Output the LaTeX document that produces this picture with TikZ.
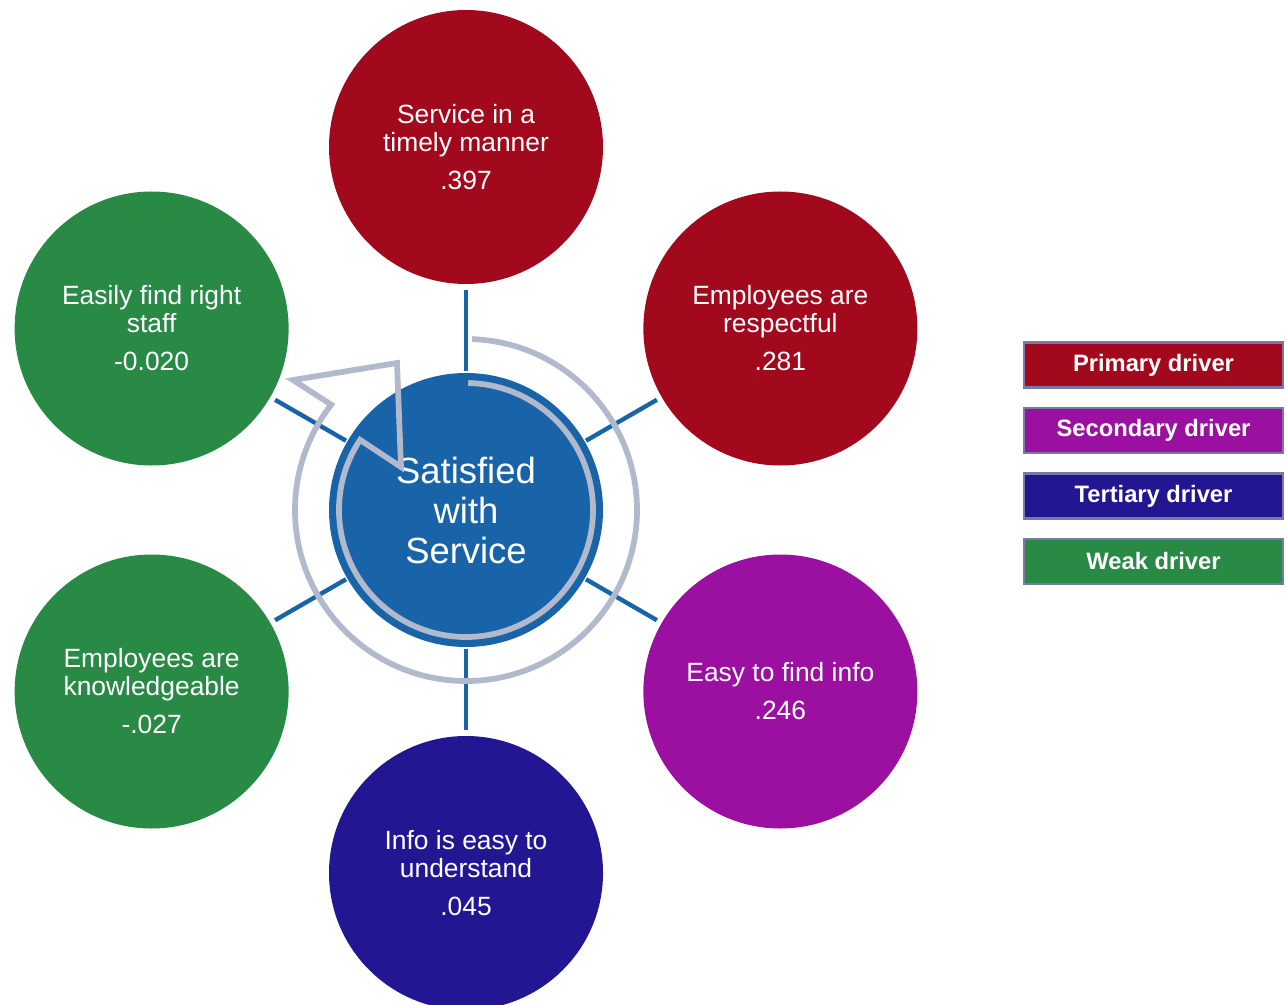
\documentclass[tikz,border=0pt]{standalone}
\usepackage{fontspec}
\setmainfont{Liberation Sans}
\usetikzlibrary{positioning}

\definecolor{primred}{HTML}{A3091D}
\definecolor{secpurple}{HTML}{9B10A0}
\definecolor{tertnavy}{HTML}{221693}
\definecolor{weakgreen}{HTML}{288A45}
\definecolor{hubblue}{HTML}{1964A8}
\definecolor{loopgray}{HTML}{B2B9CC}
\definecolor{keyedge}{HTML}{7B78A8}

\tikzset{
	driver/.style={circle, minimum size=205.5pt, inner sep=0pt, text=white,
		align=center, font=\fontsize{19.8}{21}\selectfont},
	hubnode/.style={circle, minimum size=205.5pt, inner sep=0pt, fill=hubblue,
		text=white, align=center, font=\fontsize{27.3}{30}\selectfont},
	spoke/.style={draw=hubblue, line width=3.3pt, shorten <=1pt, shorten >=4pt},
	keybox/.style={draw=keyedge, line width=1.8pt, minimum width=194pt,
		minimum height=33.5pt, inner sep=0pt, text=white,
		font=\fontsize{17.8}{20}\selectfont\bfseries},
	loop/.style={draw=loopgray, line width=4.3pt, line join=miter}
}

\begin{document}
\begin{tikzpicture}[x=0.75pt, y=0.75pt]
	\useasboundingbox (0,0) rectangle (1287,-1005);
	
	% Centre of the wheel
	\coordinate (c) at (466,-510);
	
	% Drivers around the hub
	\foreach \a/\name/\col/\txt in {
		90/timely/primred/{Service in a\\timely manner\\[7.5pt].397},
		30/respect/primred/{Employees are\\respectful\\[7.5pt].281},
		-30/findinfo/secpurple/{Easy to find info\\[7.5pt].246},
		-90/understand/tertnavy/{Info is easy to\\understand\\[7.5pt].045},
		-150/knowledge/weakgreen/{Employees are\\knowledgeable\\[7.5pt]-.027},
		150/staff/weakgreen/{Easily find right\\staff\\[7.5pt]-0.020}} {
		\node[driver, fill=\col] (\name) at ([shift={(\a:363)}]c) {\txt};
	}
	
	% Hub in the middle
	\node[hubnode] (hub) at (c) {Satisfied\\with\\Service};
	
	% Spokes from hub to each driver
	\foreach \name in {timely,respect,findinfo,understand,knowledge,staff} {
		\draw[spoke] (hub) -- (\name);
	}
	
	% Circular arrow over the hub
	\draw[loop] ([shift={(88:171)}]c) arc[start angle=88, end angle=-218, radius=171]
		-- (293,-380) -- (397,-363) -- (401,-467)
		-- ([shift={(146.5:127)}]c) arc[start angle=-213.5, end angle=89, radius=127];
	
	% Legend
	\foreach \i/\col/\txt in {0/primred/Primary driver, 1/secpurple/Secondary driver,
		2/tertnavy/Tertiary driver, 3/weakgreen/Weak driver} {
		\node[keybox, fill=\col] (key\i) at (1153.5,{-365-65.5*\i}) {\txt};
	}
	
\end{tikzpicture}
\end{document}
